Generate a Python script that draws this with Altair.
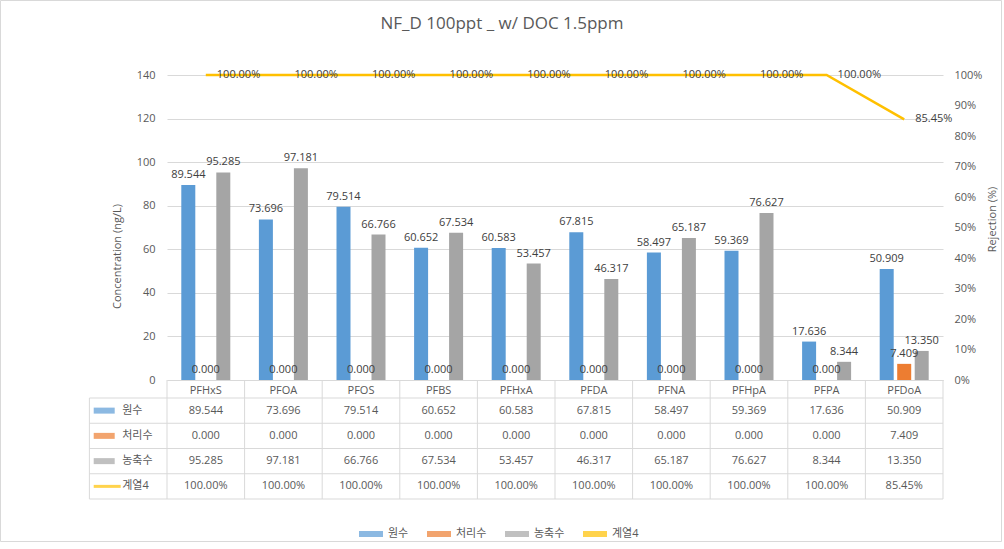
import altair as alt
import pandas as pd

# ---------------- data ----------------
categories = ["PFHxS", "PFOA", "PFOS", "PFBS", "PFHxA", "PFDA", "PFNA", "PFHpA", "PFPA", "PFDoA"]
raw_water = [89.544, 73.696, 79.514, 60.652, 60.583, 67.815, 58.497, 59.369, 17.636, 50.909]
treated_water = [0.000, 0.000, 0.000, 0.000, 0.000, 0.000, 0.000, 0.000, 0.000, 7.409]
concentrate = [95.285, 97.181, 66.766, 67.534, 53.457, 46.317, 65.187, 76.627, 8.344, 13.350]
rejection = [1.0, 1.0, 1.0, 1.0, 1.0, 1.0, 1.0, 1.0, 1.0, 0.8545]
series_names = ["원수", "처리수", "농축수", "계열4"]
series_colors = ["#5B9BD5", "#ED7D31", "#A5A5A5", "#FFC000"]
conc_ticks = [0, 20, 40, 60, 80, 100, 120, 140]
rej_ticks = [0.0, 0.1, 0.2, 0.3, 0.4, 0.5, 0.6, 0.7, 0.8, 0.9, 1.0]

# ---------------- styling / layout ----------------
FONT = "Open Sans, Noto Sans CJK KR"
TXT = "#595959"
LBL = "#404040"
GRID = "#D9D9D9"
W, H = 776, 305
TABLE_TOP, TABLE_BOTTOM = 323, 424          # body rows of the data table (pixels below plot top)
ROW_H = (TABLE_BOTTOM - TABLE_TOP) / 4
HEADER_TOP = -(TABLE_TOP - H) / ROW_H       # header row starts at the x-axis line

bar_series = series_names[:3]
bar_values = [raw_water, treated_water, concentrate]

bars_df = pd.DataFrame([
    {"cat": c, "series": s, "value": vals[i], "label": f"{vals[i]:.3f}"}
    for i, c in enumerate(categories)
    for s, vals in zip(bar_series, bar_values)
])
line_df = pd.DataFrame({
    "cat": categories,
    "rej": rejection,
    "label": [f"{r * 100:.2f}%" for r in rejection],
})

cells = []
for i, c in enumerate(categories):
    for r, vals in enumerate(bar_values):
        cells.append({"x": i + 0.5, "y": r + 0.5, "text": f"{vals[i]:.3f}"})
    cells.append({"x": i + 0.5, "y": 3.5, "text": f"{rejection[i] * 100:.2f}%"})
cells_df = pd.DataFrame(cells)

row_df = pd.DataFrame({
    "x": [-0.5] * 4,
    "y": [0.5, 1.5, 2.5, 3.5],
    "label": series_names,
    "color": series_colors,
})
vrules_df = pd.DataFrame({
    "x": list(range(-1, 11)),
    "y0": [0.0] + [HEADER_TOP] * 11,
    "y1": [4.0] * 12,
})
hrules_df = pd.DataFrame({"y": [0, 1, 2, 3, 4], "x0": [-1] * 5, "x1": [10] * 5})

# ---------------- main chart ----------------
color_scale = alt.Scale(domain=series_names, range=series_colors)
x_cat = alt.X(
    "cat:N", sort=categories,
    scale=alt.Scale(domain=categories, paddingInner=0, paddingOuter=0),
    axis=alt.Axis(title=None, labelAngle=0, ticks=False, labelPadding=4,
                  domainColor=GRID, labelFontSize=11, labelColor=TXT),
)
x_off = alt.XOffset("series:N", sort=bar_series,
                    scale=alt.Scale(domain=bar_series, paddingInner=0.2, paddingOuter=0.817))
y_conc = alt.Y(
    "value:Q", scale=alt.Scale(domain=[0, 140], nice=False),
    axis=alt.Axis(values=conc_ticks, title="Concentration (ng/L)", grid=True, gridColor=GRID,
                  domain=False, ticks=False, labelPadding=12, labelFontSize=11, labelColor=TXT,
                  titleFontSize=11, titleColor=TXT, titleFontWeight="normal",
                  titleX=-50, titleY=181, titleAngle=270, titleAlign="center",
                  titleBaseline="middle"),
)

bars = alt.Chart(bars_df).mark_bar().encode(
    x=x_cat, xOffset=x_off, y=y_conc,
    color=alt.Color("series:N", scale=color_scale, legend=alt.Legend(
        title=None, orient="none", direction="horizontal", legendX=192, legendY=447,
        symbolType="M-1,-0.25H1V0.25H-1Z", symbolSize=576, symbolStrokeWidth=0,
        labelFontSize=11, labelColor=TXT, labelOffset=5, columnPadding=18, padding=0)),
)
bar_labels = alt.Chart(bars_df).mark_text(baseline="bottom", dy=-5, fontSize=11, color=LBL).encode(
    x=x_cat, xOffset=x_off, y=y_conc, text="label:N",
)
bars_group = alt.layer(bars, bar_labels)

y_rej = alt.Y(
    "rej:Q", scale=alt.Scale(domain=[0, 1], nice=False),
    axis=alt.Axis(orient="right", values=rej_ticks, format=".0%", grid=False, domain=False,
                  ticks=False, labelPadding=11, labelFontSize=11, labelColor=TXT,
                  title="Rejection (%)", titleFontSize=11, titleColor=TXT,
                  titleFontWeight="normal", titleX=49, titleY=144, titleAngle=270,
                  titleAlign="center", titleBaseline="middle"),
)
line = alt.Chart(line_df).mark_line(color="#FFC000", strokeWidth=2.5).encode(x=x_cat, y=y_rej)
line_labels = alt.Chart(line_df).mark_text(align="left", baseline="middle", dx=11,
                                           fontSize=11, color=LBL).encode(
    x=x_cat, y=y_rej, text="label:N",
)
line_group = alt.layer(line, line_labels)

main = alt.layer(bars_group, line_group).resolve_scale(y="independent")

# ---------------- data table ----------------
tx = alt.Scale(domain=[-1, 10], range=[-W / 10, W], nice=False, zero=False)
ty = alt.Scale(domain=[0, 4], range=[TABLE_TOP, TABLE_BOTTOM], nice=False, zero=False)

vrules = alt.Chart(vrules_df).mark_rule(color=GRID, strokeWidth=1).encode(
    x=alt.X("x:Q", scale=tx, axis=None),
    y=alt.Y("y0:Q", scale=ty, axis=None), y2="y1:Q",
)
hrules = alt.Chart(hrules_df).mark_rule(color=GRID, strokeWidth=1).encode(
    x=alt.X("x0:Q", scale=tx, axis=None), x2="x1:Q",
    y=alt.Y("y:Q", scale=ty, axis=None),
)
swatch_bars = alt.Chart(row_df.iloc[:3]).mark_tick(orient="horizontal", size=21, thickness=6).encode(
    x=alt.X("x:Q", scale=tx, axis=None), y=alt.Y("y:Q", scale=ty, axis=None),
    xOffset=alt.value(-24), color=alt.Color("color:N", scale=None),
)
swatch_line = alt.Chart(row_df.iloc[3:]).mark_tick(orient="horizontal", size=27, thickness=3).encode(
    x=alt.X("x:Q", scale=tx, axis=None), y=alt.Y("y:Q", scale=ty, axis=None),
    xOffset=alt.value(-21), color=alt.Color("color:N", scale=None),
)
row_labels = alt.Chart(row_df).mark_text(align="left", baseline="middle", dx=-6,
                                         fontSize=11, color=TXT).encode(
    x=alt.X("x:Q", scale=tx, axis=None), y=alt.Y("y:Q", scale=ty, axis=None), text="label:N",
)
cell_text = alt.Chart(cells_df).mark_text(align="center", baseline="middle",
                                          fontSize=11, color=TXT).encode(
    x=alt.X("x:Q", scale=tx, axis=None), y=alt.Y("y:Q", scale=ty, axis=None), text="text:N",
)
frame = alt.Chart(alt.Data(values=[{}])).mark_rect(fill=None, stroke=GRID, strokeWidth=1).encode(
    x=alt.value(-166.5), x2=alt.value(834.5), y=alt.value(-74.5), y2=alt.value(466.5),
)
table = alt.layer(frame, vrules, hrules, swatch_bars, swatch_line, row_labels, cell_text)

chart = alt.layer(main, table).resolve_scale(x="independent", y="independent").properties(
    width=W, height=H,
    autosize=alt.AutoSizeParams(type="none"),
    padding={"left": 167, "top": 75, "right": 61, "bottom": 169},
    title=alt.Title("NF_D 100ppt _ w/ DOC 1.5ppm", fontSize=17, color=TXT, fontWeight="normal",
                    anchor="middle", dx=-53, offset=-33),
).configure(font=FONT).configure_view(stroke=None)

chart.save("out.html", embed_options={"renderer": "svg", "actions": False})
